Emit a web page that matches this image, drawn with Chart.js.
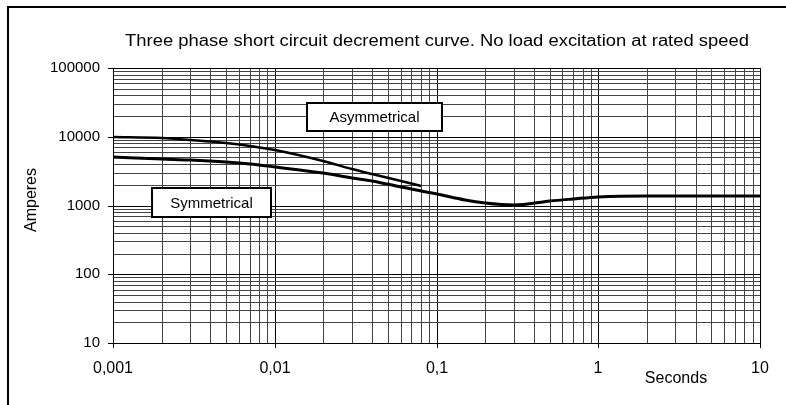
<!DOCTYPE html>
<html>
<head>
<meta charset="utf-8">
<script src="https://cdn.jsdelivr.net/npm/chart.js@4/dist/chart.umd.min.js"></script>
<style>
  html, body { margin: 0; padding: 0; background: #fff; }
  #wrap { width: 786px; height: 405px; position: relative; }
</style>
</head>
<body>
<div id="wrap"><canvas id="c"></canvas></div>
<script>
// Values
const symTimes = [0.001, 0.002, 0.003, 0.005, 0.007, 0.01, 0.02, 0.03, 0.04, 0.06, 0.1, 0.15, 0.2, 0.3, 0.5, 0.7, 1, 2, 5, 10]
const symAmps = [5000, 4780, 4580, 4250, 3960, 3650, 2950, 2530, 2240, 1870, 1450, 1190, 1090, 1015, 1160, 1260, 1330, 1380, 1390, 1390]

const asymTimes = [0.001, 0.002, 0.003, 0.005, 0.007, 0.01, 0.02, 0.03, 0.04, 0.06, 0.08]
const asymAmps = [10000, 9500, 9000, 8100, 7300, 6400, 4450, 3450, 2900, 2300, 1950]

const xDecades = [0.001, 0.01, 0.1, 1, 10]
const xTickLabels = ['0,001', '0,01', '0,1', '1', '10']
const yDecades = [10, 100, 1000, 10000, 100000]
const yTickLabels = ['10', '100', '1000', '10000', '100000']

const titleText = 'Three phase short circuit decrement curve. No load excitation at rated speed'
const FONT = '"Liberation Sans", Arial, sans-serif'

const toPoints = (xs, ys) => xs.map((x, i) => ({ x, y: ys[i] }))

// all 1..9 multiples of each decade, for the grid
const logTicks = (decades) => {
  const out = []
  decades.forEach((d, i) => {
    if (i === decades.length - 1) { out.push({ value: d }); return }
    for (let m = 1; m < 10; m++) out.push({ value: +(d * m).toPrecision(3) })
  })
  return out
}

const isMajor = (v, decades) => decades.some(d => Math.abs(v - d) / d < 1e-6)

const labelFor = (v, decades, labels) => {
  const i = decades.findIndex(d => Math.abs(v - d) / d < 1e-6)
  return i >= 0 ? labels[i] : ''
}

// frame, title, axis titles and the two boxed labels
const decorations = {
  id: 'decorations',
  beforeDraw(chart) {
    const ctx = chart.ctx
    ctx.save()
    ctx.fillStyle = '#fff'
    ctx.fillRect(0, 0, chart.width, chart.height)
    ctx.strokeStyle = '#000'
    ctx.lineWidth = 2
    ctx.beginPath()
    ctx.moveTo(8, chart.height)
    ctx.lineTo(8, 7)
    ctx.lineTo(chart.width, 7)
    ctx.stroke()

    ctx.fillStyle = '#000'
    ctx.textAlign = 'center'
    ctx.textBaseline = 'middle'

    // the title in the original is a slightly wide face
    ctx.save()
    ctx.font = '16px ' + FONT
    ctx.translate(437, 42)
    ctx.scale(1.15, 1)
    ctx.fillText(titleText, 0, 0)
    ctx.restore()

    ctx.font = '16px ' + FONT
    ctx.fillText('Seconds', 676, 379)
    ctx.translate(32, 200)
    ctx.rotate(-Math.PI / 2)
    ctx.fillText('Amperes', 0, 0)
    ctx.restore()
  },
  afterDatasetsDraw(chart) {
    const ctx = chart.ctx
    const box = (x1, y1, x2, y2, text) => {
      ctx.fillStyle = '#fff'
      ctx.fillRect(x1, y1, x2 - x1, y2 - y1)
      ctx.strokeStyle = '#000'
      ctx.lineWidth = 2
      ctx.strokeRect(x1, y1, x2 - x1, y2 - y1)
      ctx.fillStyle = '#000'
      ctx.fillText(text, (x1 + x2) / 2, (y1 + y2) / 2 + 1)
    }
    ctx.save()
    ctx.font = '15px ' + FONT
    ctx.textAlign = 'center'
    ctx.textBaseline = 'middle'
    box(307, 103, 442, 131, 'Asymmetrical')
    box(152, 188, 271, 217, 'Symmetrical')
    ctx.restore()
  }
}

new Chart(document.getElementById('c'), {
  type: 'scatter',
  data: {
    datasets: [
      {
        label: 'Symmetrical',
        data: toPoints(symTimes, symAmps),
        showLine: true,
        borderColor: '#000',
        borderWidth: 3,
        pointRadius: 0,
        cubicInterpolationMode: 'monotone'
      },
      {
        label: 'Asymmetrical',
        data: toPoints(asymTimes, asymAmps),
        showLine: true,
        borderColor: '#000',
        borderWidth: 2.5,
        pointRadius: 0,
        cubicInterpolationMode: 'monotone'
      }
    ]
  },
  options: {
    animation: false,
    responsive: true,
    maintainAspectRatio: false,
    devicePixelRatio: 1,
    layout: { padding: { top: 68, right: 26, left: 0, bottom: 0 } },
    plugins: {
      legend: { display: false },
      tooltip: { enabled: false },
      title: { display: false }
    },
    scales: {
      x: {
        type: 'logarithmic',
        min: 0.001,
        max: 10,
        alignToPixels: true,
        afterBuildTicks: (scale) => { scale.ticks = logTicks(xDecades) },
        afterFit: (scale) => { scale.height = 62 },
        border: { color: '#000', width: 1 },
        grid: {
          color: (c) => isMajor(c.tick.value, xDecades) ? '#000' : '#444',
          lineWidth: 1,
          tickLength: 5,
          tickColor: (c) => isMajor(c.tick.value, xDecades) ? '#000' : 'rgba(0,0,0,0)'
        },
        ticks: {
          autoSkip: false,
          maxRotation: 0,
          padding: 11,
          color: '#000',
          font: { family: FONT, size: 16 },
          callback: (v) => labelFor(v, xDecades, xTickLabels)
        }
      },
      y: {
        type: 'logarithmic',
        min: 10,
        max: 100000,
        alignToPixels: true,
        afterBuildTicks: (scale) => { scale.ticks = logTicks(yDecades) },
        afterFit: (scale) => { scale.width = 113 },
        border: { color: '#000', width: 1 },
        grid: {
          color: (c) => isMajor(c.tick.value, yDecades) ? '#000' : '#444',
          lineWidth: 1,
          tickLength: 5,
          tickColor: (c) => isMajor(c.tick.value, yDecades) ? '#000' : 'rgba(0,0,0,0)'
        },
        ticks: {
          autoSkip: false,
          padding: 8,
          color: '#000',
          font: { family: FONT, size: 15 },
          callback: (v) => labelFor(v, yDecades, yTickLabels)
        }
      }
    }
  },
  plugins: [decorations]
})
</script>
</body>
</html>
